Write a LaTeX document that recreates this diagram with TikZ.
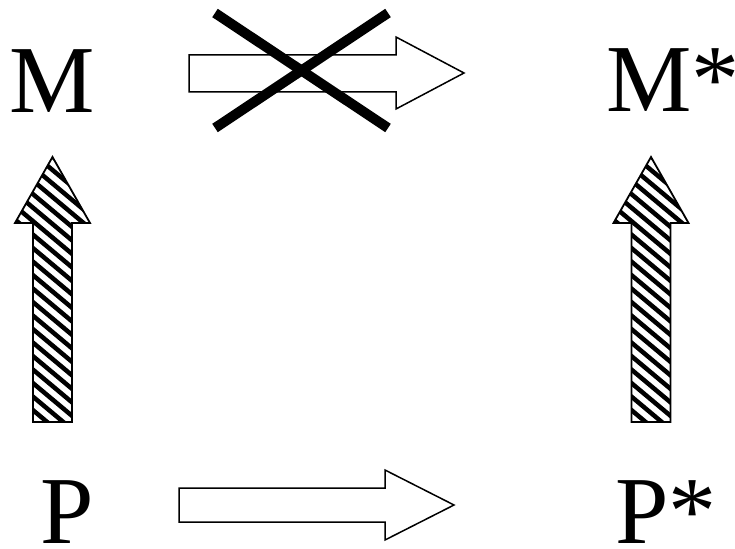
\documentclass[tikz,border=0pt]{standalone}
\usepackage{fontspec}
\setmainfont{Liberation Serif}
\begin{document}
\begin{tikzpicture}[x=1pt,y=-1pt,
  lbl/.style={inner sep=0pt, text depth=0pt, font=\fontsize{96}{100}\selectfont, anchor=base west},
  blockarrow/.style={draw=black, line width=1.5pt, fill=white, line join=miter},
  crossline/.style={line width=10pt},
  hatchline/.style={line width=4.5pt},
  outline/.style={draw=black, line width=1.8pt, line join=miter}]
\useasboundingbox (0,0) rectangle (735,548);
% labels
\node[lbl] (M)  at (9,113)   {M};
\node[lbl] (Ms) at (606,112) {M*};
\node[lbl] (P)  at (40,543)  {P};
\node[lbl] (Ps) at (615,543) {P*};
% top block arrow (crossed)
\draw[blockarrow] (189,55) -- (396,55) -- (396,37) -- (464,73) -- (396,109) -- (396,92) -- (189,92) -- cycle;
\coordinate (c1) at (215,13); \coordinate (c2) at (388,128);
\coordinate (c3) at (388,13); \coordinate (c4) at (215,128);
\draw[crossline] (c1) -- (c2);
\draw[crossline] (c3) -- (c4);
% bottom block arrow
\draw[blockarrow] (179,488) -- (385,488) -- (385,470) -- (454,505) -- (385,540) -- (385,522) -- (179,522) -- cycle;
% hatched vertical arrows
\foreach \cx in {52.5,651}{
  \begin{scope}[shift={(\cx,0)}]
    \begin{scope}
      \clip (0,157) -- (37.5,223) -- (19.5,223) -- (19.5,422) -- (-19.5,422) -- (-19.5,223) -- (-37.5,223) -- cycle;
      \fill[white] (-40,150) rectangle (40,430);
      \foreach \k in {-6,...,22}{
        \draw[hatchline] (-40,150+\k*13.5) -- ++(80,67);
      }
    \end{scope}
    \draw[outline] (0,157) -- (37.5,223) -- (19.5,223) -- (19.5,422) -- (-19.5,422) -- (-19.5,223) -- (-37.5,223) -- cycle;
  \end{scope}
}
\end{tikzpicture}
\end{document}
